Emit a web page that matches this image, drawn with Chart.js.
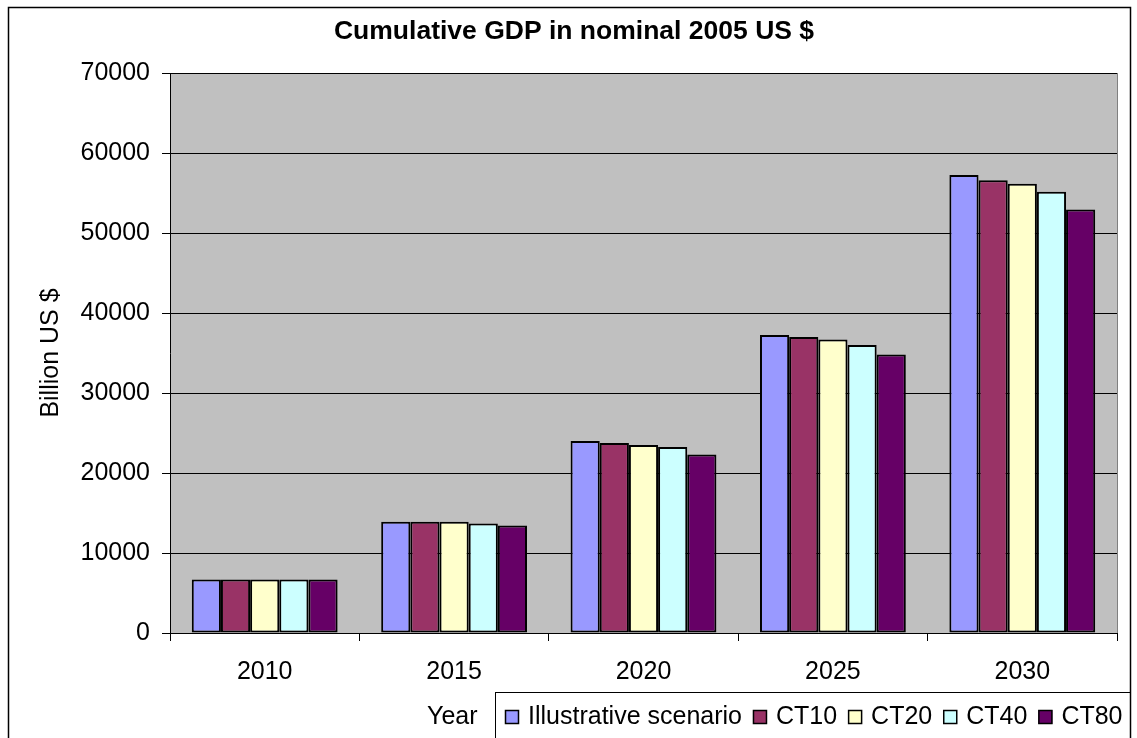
<!DOCTYPE html>
<html lang="en">
<head>
    <meta charset="UTF-8">
    <title>Cumulative GDP</title>
    <style>
        html, body { margin: 0; padding: 0; background: #fff; }
        canvas { display: block; }
    </style>
</head>
<body>
    <canvas id="gdpChart" width="1137" height="738"></canvas>
    <script src="https://cdn.jsdelivr.net/npm/chart.js"></script>
    <script>
        // years on the x axis
        const years = ['2010', '2015', '2020', '2025', '2030']

        // cumulative GDP, billion US $, per scenario
        const illustrative = [6700, 13900, 24000, 37250, 57250]
        const ct10 = [6700, 13900, 23750, 37000, 56600]
        const ct20 = [6700, 13900, 23500, 36700, 56150]
        const ct40 = [6700, 13700, 23250, 36000, 55150]
        const ct80 = [6700, 13450, 22300, 34800, 52950]

        const seriesNames = ['Illustrative scenario', 'CT10', 'CT20', 'CT40', 'CT80']
        const seriesColors = ['#9999FF', '#993366', '#FFFFCC', '#CCFFFF', '#660066']
        const seriesValues = [illustrative, ct10, ct20, ct40, ct80]

        const yTicks = { min: 0, max: 70000, step: 10000 }

        const FONT = "'Liberation Sans', Arial, sans-serif"

        // grey plot area, outer frame, title and the boxed legend
        const excelFrame = {
            id: 'excelFrame',
            beforeDraw(chart) {
                const { ctx, chartArea: a } = chart
                ctx.save()
                ctx.fillStyle = '#fff'
                ctx.fillRect(0, 0, chart.width, chart.height)
                ctx.fillStyle = '#C0C0C0'
                ctx.fillRect(a.left, a.top, a.right - a.left, a.bottom - a.top)
                ctx.strokeStyle = '#808080'
                ctx.lineWidth = 1
                ctx.beginPath()
                ctx.moveTo(a.right + 0.5, a.top)
                ctx.lineTo(a.right + 0.5, a.bottom)
                ctx.stroke()
                ctx.restore()
            },
            afterDraw(chart) {
                const { ctx } = chart
                ctx.save()

                // outer border
                ctx.strokeStyle = '#000'
                ctx.lineWidth = 1.5
                ctx.strokeRect(8.5, 7.5, 1122, 760)

                // title
                ctx.fillStyle = '#000'
                ctx.font = 'bold 26.5px ' + FONT
                ctx.textAlign = 'center'
                ctx.textBaseline = 'middle'
                ctx.fillText('Cumulative GDP in nominal 2005 US $', 574, 32)

                // x axis title sits left of the legend
                ctx.font = '25px ' + FONT
                ctx.textAlign = 'left'
                ctx.textBaseline = 'alphabetic'
                ctx.fillText('Year', 427, 724)

                // legend box
                ctx.lineWidth = 1
                ctx.strokeRect(495.5, 692.5, 635, 80)

                let x = 505
                chart.data.datasets.forEach(ds => {
                    ctx.fillStyle = ds.backgroundColor
                    ctx.fillRect(x, 710, 14, 14)
                    ctx.strokeStyle = '#000'
                    ctx.lineWidth = 1.5
                    ctx.strokeRect(x + 0.5, 710.5, 13, 13)
                    ctx.fillStyle = '#000'
                    ctx.fillText(ds.label, x + 23, 724)
                    x += 23 + ctx.measureText(ds.label).width + 11
                })
                ctx.restore()
            }
        }

        const data = {
            labels: years,
            datasets: seriesNames.map((name, i) => ({
                label: name,
                data: seriesValues[i],
                backgroundColor: seriesColors[i],
                borderColor: '#000',
                borderWidth: 2,
                borderSkipped: false,
                categoryPercentage: 0.77,
                barPercentage: 1.0
            }))
        }

        Chart.defaults.color = '#000'
        Chart.defaults.font.family = FONT

        const config = {
            type: 'bar',
            data: data,
            plugins: [excelFrame],
            options: {
                responsive: false,
                animation: false,
                layout: { padding: { top: 73, left: 10, right: 20, bottom: 0 } },
                plugins: {
                    legend: { display: false },
                    title: { display: false },
                    tooltip: { enabled: false }
                },
                scales: {
                    x: {
                        offset: true,
                        grid: {
                            offset: true,
                            drawOnChartArea: false,
                            drawTicks: true,
                            tickLength: 8,
                            color: '#000'
                        },
                        border: { color: '#000', width: 1 },
                        ticks: { font: { size: 25 }, padding: 16, maxRotation: 0 },
                        afterFit: scale => { scale.height = 105 }
                    },
                    y: {
                        min: yTicks.min,
                        max: yTicks.max,
                        grid: { color: '#000', tickLength: 8 },
                        border: { color: '#000', width: 1 },
                        ticks: {
                            stepSize: yTicks.step,
                            font: { size: 25 },
                            padding: 12,
                            callback: v => v
                        },
                        title: {
                            display: true,
                            text: 'Billion US $',
                            font: { size: 25 },
                            padding: { top: 26, bottom: 0 }
                        },
                        afterFit: scale => { scale.width = 160 }
                    }
                }
            }
        }

        const chart = new Chart(document.getElementById('gdpChart'), config)
    </script>
</body>
</html>
